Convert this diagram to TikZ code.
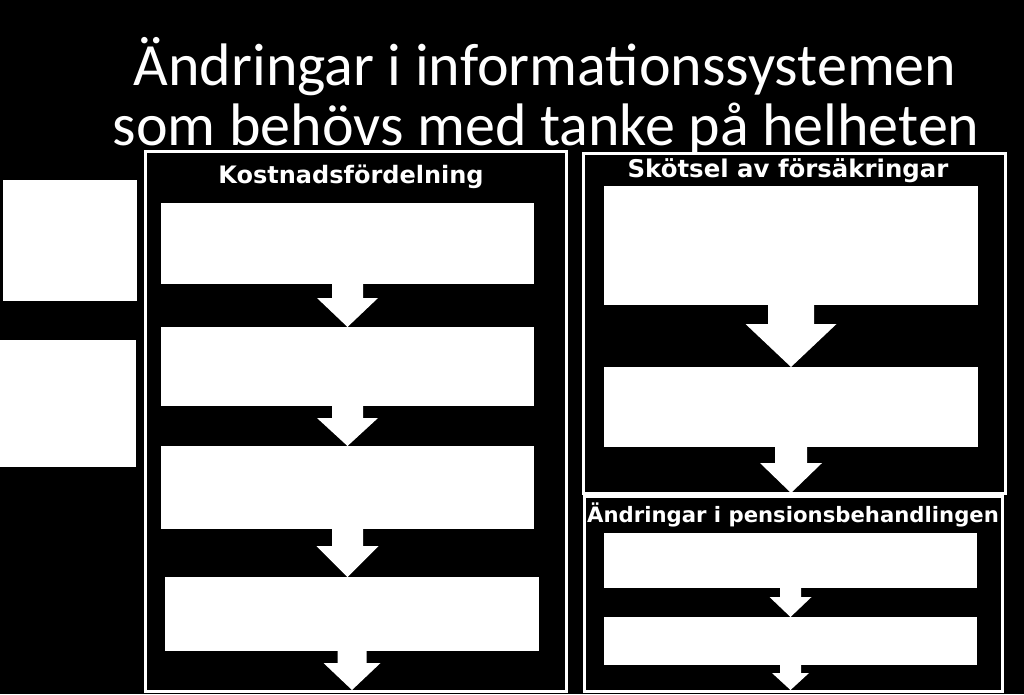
\documentclass[tikz,border=0pt]{standalone}
\usepackage{fontspec}
\setmainfont{Carlito}
\newfontfamily\headfont{DejaVu Sans}
\usetikzlibrary{calc}

\newcommand\flowarrow[5]{%
  \fill[white] let \p1=#1, \p2=#2 in
    (\x1-#3/2,\y1) -- (\x1+#3/2,\y1) -- (\x1+#3/2,\y2+#5) -- (\x1+#4/2,\y2+#5)
    -- (\x1,\y2) -- (\x1-#4/2,\y2+#5) -- (\x1-#3/2,\y2+#5) -- cycle;}

\begin{document}
\begin{tikzpicture}[x=1pt,y=-1pt,
  box/.style={fill=white,inner sep=0pt,outer sep=0pt},
  frame/.style={draw=white,line width=3pt,inner sep=0pt,outer sep=0pt},
  head/.style={text=white,anchor=base,inner sep=0pt,font=\headfont\bfseries\fontsize{#1}{26}\selectfont},
  ttl/.style={text=white,anchor=base,inner sep=0pt,font=\fontsize{60}{60}\selectfont}]
  \fill[black] (0,0) rectangle (1024,694);
  \useasboundingbox (0,0) rectangle (1024,694);

  \node[ttl] (t1) at (545,85) {Ändringar i informationssystemen};
  \node[ttl] (t2) at (546,145) {som behövs med tanke på helheten};

  \node[box,minimum width=134pt,minimum height=121pt] (l1) at (70,240.5) {};
  \node[box,minimum width=136pt,minimum height=127pt] (l2) at (68,403.5) {};

  \node[frame,minimum width=421pt,minimum height=540pt] (kf) at (355.5,421) {};
  \node[head=24] (kt) at (351,183) {Kostnadsfördelning};
  \node[box,minimum width=373pt,minimum height=81pt] (k1) at (347.5,243.5) {};
  \node[box,minimum width=373pt,minimum height=79pt] (k2) at (347.5,366.5) {};
  \node[box,minimum width=373pt,minimum height=83pt] (k3) at (347.5,487.5) {};
  \node[box,minimum width=374pt,minimum height=74pt] (k4) at (352,614) {};
  \coordinate (kend) at (352,690);

  \node[frame,minimum width=422pt,minimum height=340pt] (sf) at (794,323) {};
  \node[head=24.4] (st) at (788,177) {Skötsel av försäkringar};
  \node[box,minimum width=374pt,minimum height=119pt] (s1) at (791,245.5) {};
  \node[box,minimum width=374pt,minimum height=80pt] (s2) at (791,407) {};

  \node[frame,minimum width=418pt,minimum height=195pt] (pf) at (793,593.5) {};
  \node[head=21.2] (pt) at (793,522) {Ändringar i pensionsbehandlingen};
  \node[box,minimum width=373pt,minimum height=55pt] (p1) at (790.5,560.5) {};
  \node[box,minimum width=373pt,minimum height=48pt] (p2) at (790.5,641) {};
  \coordinate (pend) at (791,690);

  \flowarrow{(k1.south)}{(k2.north)}{31pt}{61pt}{29pt}
  \flowarrow{(k2.south)}{(k3.north)}{31pt}{61pt}{28pt}
  \flowarrow{(k3.south)}{(k4.north)}{31pt}{62pt}{31pt}
  \flowarrow{(k4.south)}{(kend)}{29pt}{57pt}{27pt}
  \flowarrow{(s1.south)}{(s2.north)}{46pt}{91pt}{43pt}
  \flowarrow{(s2.south)}{(sf.south)}{32pt}{62pt}{30pt}
  \flowarrow{(p1.south)}{(p2.north)}{21pt}{42pt}{20pt}
  \flowarrow{(p2.south)}{(pend)}{21pt}{37pt}{17pt}
\end{tikzpicture}
\end{document}
